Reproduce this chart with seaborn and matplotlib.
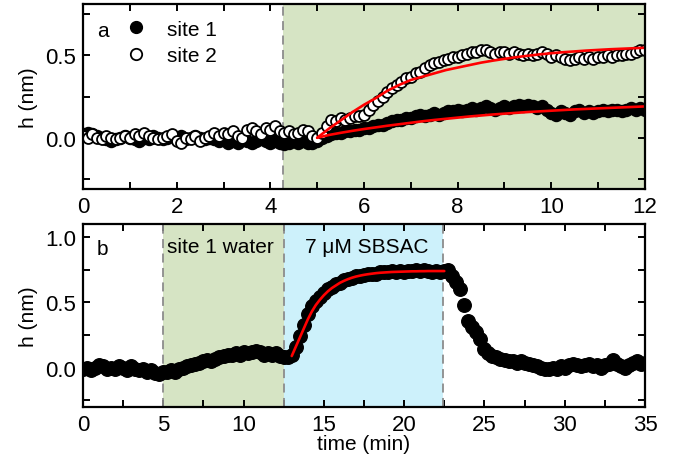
import numpy as np
import matplotlib
matplotlib.use('Agg')
import matplotlib.pyplot as plt
from matplotlib.ticker import MultipleLocator, FormatStrFormatter
from matplotlib.lines import Line2D
import seaborn as sns

# ---- panel a: step of 0.1 min from 0 to 12 ----
t_a = np.round(np.arange(0, 12.01, 0.1), 2)
site1_a = [0.02, 0.03, 0.02, 0.01, 0.00, -0.01, -0.02, -0.01, 0.00, 0.01,
           0.00, -0.01, -0.02, 0.00, -0.01, 0.01, 0.00, -0.01, 0.00, 0.01,
           0.00, 0.01, -0.01, 0.00, 0.01, 0.00, -0.01, 0.00, -0.01, -0.02,
           -0.01, -0.03, -0.02, -0.03, -0.01, -0.02, -0.03, -0.02, -0.01, -0.02,
           -0.03, -0.02, -0.03, -0.04, -0.03, -0.02, -0.03, -0.02, -0.03, -0.03,
           -0.02, 0.00, 0.01, 0.02, 0.03, 0.03, 0.04, 0.04, 0.05, 0.05,
           0.06, 0.06, 0.07, 0.08, 0.08, 0.09, 0.10, 0.11, 0.11, 0.12,
           0.12, 0.13, 0.14, 0.13, 0.14, 0.15, 0.14, 0.15, 0.16, 0.16,
           0.17, 0.16, 0.17, 0.18, 0.17, 0.18, 0.19, 0.18, 0.17, 0.18,
           0.19, 0.18, 0.19, 0.20, 0.19, 0.20, 0.19, 0.18, 0.19, 0.17,
           0.15, 0.14, 0.16, 0.15, 0.14, 0.16, 0.17, 0.15, 0.16, 0.15,
           0.16, 0.17, 0.16, 0.17, 0.17, 0.16, 0.17, 0.18, 0.17, 0.18,
           0.17]
site2_a = [0.01, 0.00, 0.02, 0.00, -0.01, 0.01, 0.00, -0.01, 0.00, 0.01,
           0.00, 0.02, 0.01, 0.03, 0.01, 0.00, -0.01, 0.00, 0.01, 0.02,
           -0.02, -0.03, 0.00, -0.01, 0.01, -0.02, 0.00, 0.01, 0.03, 0.01,
           0.03, 0.02, 0.04, 0.01, 0.00, 0.05, 0.06, 0.04, 0.02, 0.06,
           0.05, 0.07, 0.04, 0.03, 0.04, 0.02, 0.03, 0.05, 0.04, 0.01,
           0.00, 0.03, 0.07, 0.11, 0.10, 0.12, 0.11, 0.12, 0.13, 0.13,
           0.14, 0.17, 0.20, 0.22, 0.25, 0.28, 0.30, 0.32, 0.34, 0.36,
           0.37, 0.39, 0.40, 0.42, 0.44, 0.45, 0.46, 0.47, 0.48, 0.49,
           0.49, 0.50, 0.51, 0.52, 0.52, 0.53, 0.53, 0.52, 0.51, 0.52,
           0.52, 0.51, 0.52, 0.51, 0.50, 0.51, 0.50, 0.51, 0.52, 0.51,
           0.49, 0.50, 0.49, 0.48, 0.47, 0.48, 0.49, 0.48, 0.49, 0.48,
           0.49, 0.49, 0.50, 0.49, 0.50, 0.50, 0.51, 0.51, 0.52, 0.53,
           0.53]

# fits in panel a, step 0.25 min from 5 to 12
t_fit_a = np.round(np.arange(5, 12.01, 0.25), 2)
fit1_a = [0.0, 0.017, 0.03, 0.042, 0.053, 0.063, 0.073, 0.082, 0.091, 0.10,
          0.108, 0.115, 0.122, 0.129, 0.135, 0.141, 0.146, 0.151, 0.156, 0.160,
          0.164, 0.168, 0.172, 0.175, 0.178, 0.181, 0.184, 0.187, 0.19]
fit2_a = [0.0, 0.055, 0.105, 0.155, 0.20, 0.24, 0.285, 0.32, 0.35, 0.37,
          0.39, 0.41, 0.425, 0.44, 0.455, 0.467, 0.478, 0.488, 0.497, 0.505,
          0.512, 0.518, 0.523, 0.528, 0.532, 0.536, 0.539, 0.542, 0.545]

# ---- panel b: step of 0.25 min from 0 to 35 ----
t_b = np.round(np.arange(0, 35.01, 0.25), 2)
h_b = [-0.01, 0.0, -0.02, 0.0, 0.02, 0.01, -0.01, 0.0, -0.01, 0.01,
       0.0, -0.02, 0.01, -0.01, -0.02, -0.01, -0.03, -0.02, -0.04, -0.05,
       -0.03,
       -0.03, -0.02, -0.03, -0.01, 0.0, 0.01, 0.02, 0.03, 0.04, 0.05,
       0.06, 0.05, 0.07, 0.08, 0.09, 0.10, 0.10, 0.11, 0.10, 0.12,
       0.11, 0.12, 0.13, 0.12, 0.10, 0.11, 0.10, 0.11, 0.09, 0.08,
       0.08, 0.10, 0.16, 0.24, 0.33, 0.41, 0.47, 0.51, 0.54, 0.57,
       0.60, 0.62, 0.64, 0.65, 0.67, 0.68, 0.69, 0.70, 0.70, 0.71,
       0.72, 0.72, 0.72, 0.73, 0.73, 0.73, 0.74, 0.73, 0.74, 0.73,
       0.74, 0.74, 0.75, 0.74, 0.75, 0.74, 0.73, 0.74, 0.73, 0.74,
       0.75, 0.70, 0.66, 0.60, 0.48, 0.36, 0.31, 0.27, 0.22, 0.14,
       0.11, 0.09, 0.08, 0.07, 0.06, 0.05, 0.05, 0.04, 0.05, 0.04,
       0.03, 0.02, 0.01, 0.0, -0.01, -0.01, 0.0, -0.01, 0.01, 0.0,
       0.02, 0.03, 0.02, 0.01, 0.02, 0.03, 0.01, 0.02, 0.0, 0.02,
       0.03, 0.06, 0.03, 0.01, 0.0, 0.02, 0.04, 0.05, 0.03, 0.04]

t_fit_b = np.round(np.arange(13, 22.51, 0.25), 2)
fit_b = [0.09, 0.16, 0.23, 0.30, 0.37, 0.43, 0.48, 0.52, 0.555, 0.585,
         0.61, 0.63, 0.65, 0.665, 0.678, 0.689, 0.698, 0.705, 0.711, 0.716,
         0.72, 0.724, 0.727, 0.729, 0.731, 0.733, 0.734, 0.735, 0.736, 0.737,
         0.738, 0.738, 0.739, 0.739, 0.74, 0.74, 0.74, 0.74, 0.74]

switch_a = 4.27
switch_b = [5.0, 12.5, 22.45]

green = '#d6e4c4'
blue = '#cdf1fb'
dash_col = '#8c8c8c'

sns.set_style('ticks')
plt.rcParams['font.family'] = ['Liberation Sans', 'DejaVu Sans']
plt.rcParams['font.size'] = 15
plt.rcParams['text.color'] = 'black'
plt.rcParams['axes.labelcolor'] = 'black'
plt.rcParams['axes.edgecolor'] = 'black'
plt.rcParams['xtick.color'] = 'black'
plt.rcParams['ytick.color'] = 'black'
plt.rcParams['axes.linewidth'] = 1.6

fig = plt.figure(figsize=(6.75, 4.6), dpi=100)
ax1 = fig.add_axes([83 / 675, 1 - 190 / 460, 562 / 675, 185 / 460])
ax2 = fig.add_axes([83 / 675, 1 - 408 / 460, 562 / 675, 183 / 460])

# panel a
ax1.axvspan(switch_a, 12, color=green, lw=0, zorder=0)
ax1.axvline(switch_a, color=dash_col, ls=(0, (5, 3)), lw=1.3, zorder=1)
sns.scatterplot(x=t_a, y=site1_a, ax=ax1, color='black', edgecolor='black',
                s=75, linewidth=1, zorder=2)
sns.scatterplot(x=t_a, y=site2_a, ax=ax1, color='white', edgecolor='black',
                s=62, linewidth=1.3, zorder=3)
sns.lineplot(x=t_fit_a, y=fit1_a, ax=ax1, color='red', lw=1.9, zorder=4)
sns.lineplot(x=t_fit_a, y=fit2_a, ax=ax1, color='red', lw=1.9, zorder=4)
ax1.set_xlim(0, 12)
ax1.set_ylim(-0.31, 0.81)
ax1.xaxis.set_major_locator(MultipleLocator(2))
ax1.xaxis.set_minor_locator(MultipleLocator(1))
ax1.yaxis.set_major_locator(MultipleLocator(0.5))
ax1.yaxis.set_minor_locator(MultipleLocator(0.25))
ax1.yaxis.set_major_formatter(FormatStrFormatter('%.1f'))
ax1.set_ylabel('h (nm)', labelpad=5)
ax1.text(0.025, 0.855, 'a', transform=ax1.transAxes, va='center', ha='left')
handles = [Line2D([], [], ls='none', marker='o', ms=8.5, mfc='black', mec='black'),
           Line2D([], [], ls='none', marker='o', ms=8.2, mfc='white', mec='black', mew=1.3)]
ax1.legend(handles, ['site 1', 'site 2'], loc='upper left',
           bbox_to_anchor=(0.076, 0.915), frameon=False, borderpad=0,
           borderaxespad=0, handlelength=1.0, handletextpad=1.0,
           labelspacing=0.35)

# panel b
ax2.axvspan(switch_b[0], switch_b[1], color=green, lw=0, zorder=0)
ax2.axvspan(switch_b[1], switch_b[2], color=blue, lw=0, zorder=0)
for xv in switch_b:
    ax2.axvline(xv, color=dash_col, ls=(0, (5, 3)), lw=1.3, zorder=1)
sns.scatterplot(x=t_b, y=h_b, ax=ax2, color='black', edgecolor='black',
                s=95, linewidth=1, zorder=2)
sns.lineplot(x=t_fit_b, y=fit_b, ax=ax2, color='red', lw=1.9, zorder=4)
ax2.set_xlim(0, 35)
ax2.set_ylim(-0.3, 1.1)
ax2.xaxis.set_major_locator(MultipleLocator(5))
ax2.xaxis.set_minor_locator(MultipleLocator(2.5))
ax2.yaxis.set_major_locator(MultipleLocator(0.5))
ax2.yaxis.set_minor_locator(MultipleLocator(0.25))
ax2.yaxis.set_major_formatter(FormatStrFormatter('%.1f'))
ax2.set_ylabel('h (nm)', labelpad=5)
ax2.set_xlabel('time (min)', labelpad=-1)
ax2.text(0.025, 0.865, 'b', transform=ax2.transAxes, va='center', ha='left')
ax2.text(5.25, 0.925, 'site 1 water', va='center', ha='left')
ax2.text(13.8, 0.925, '7 \u03bcM SBSAC', va='center', ha='left')

for ax in (ax1, ax2):
    ax.tick_params(which='both', direction='in', top=True, right=True,
                   length=5, width=1.4, labelsize=16, pad=5)
    for sp in ax.spines.values():
        sp.set_linewidth(1.6)
        sp.set_zorder(5)

fig.savefig('out.png', dpi=100)
